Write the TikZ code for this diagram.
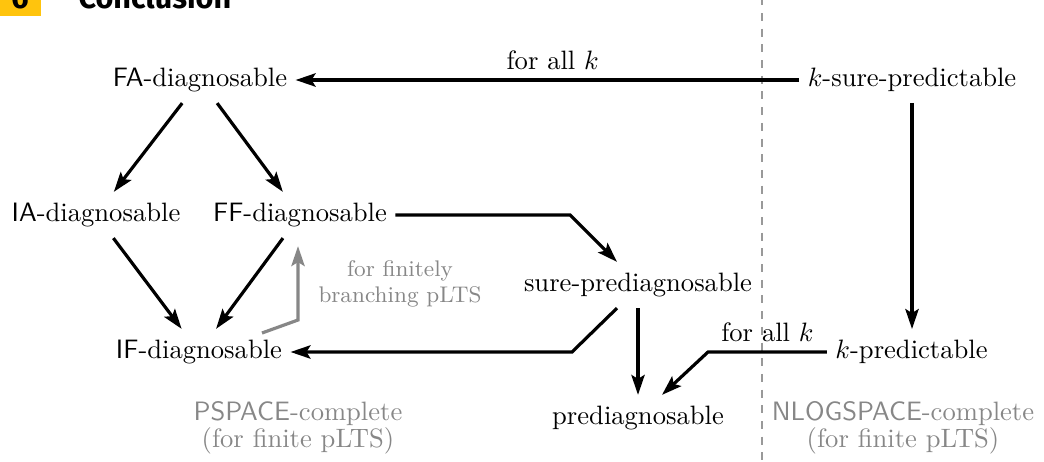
\documentclass[tikz,border=0pt]{standalone}
\usepackage{fontspec}
\newfontfamily\hdrfont{Fira Sans}
\usetikzlibrary{arrows.meta,calc}
\definecolor{hdryellow}{RGB}{255,196,13}
\definecolor{notegray}{RGB}{135,135,135}
\begin{document}
\begin{tikzpicture}[x=0.376pt,y=-0.376pt,
  st/.style={inner xsep=3pt, inner ysep=4pt, font=\fontsize{10}{12}\selectfont},
  arr/.style={line width=1.2pt, -{Stealth[length=7.5pt,width=5pt,inset=1.5pt]}},
  garr/.style={arr, draw=notegray},
  lab/.style={inner sep=3.33pt, font=\fontsize{10}{12}\selectfont},
  note/.style={text=notegray, align=center, font=\fontsize{10}{10.2}\selectfont},
  smallnote/.style={text=notegray, align=center, font=\fontsize{8.5}{9.8}\selectfont},
  sep/.style={draw=gray!80, line width=0.4pt, dash pattern=on 3pt off 2.9pt, dash phase=1pt}]
\useasboundingbox (0,0) rectangle (1044,461);
% header (cut off)
\fill[hdryellow] (0,-30) rectangle (41,16);
\node[anchor=base, inner sep=0, font=\hdrfont\bfseries\fontsize{11.5}{13}\selectfont] (hnum) at (20,9) {6};
\node[anchor=base west, inner sep=0, font=\hdrfont\bfseries\fontsize{11.5}{13}\selectfont] (htitle) at (78,9) {Conclusion};
% separator
\coordinate (s1) at (762,0);
\coordinate (s2) at (762,461);
\draw[sep] (s1) -- (s2);
% nodes
\node[st] (FA) at (200,80) {\textsf{FA}-diagnosable};
\node[st] (KS) at (912,80) {$k$-sure-predictable};
\node[st] (IA) at (96,215) {\textsf{IA}-diagnosable};
\node[st] (FF) at (300,215) {\textsf{FF}-diagnosable};
\node[st] (SP) at (638,285) {sure-prediagnosable};
\node[st] (IF) at (199,352) {\textsf{IF}-diagnosable};
\node[st] (KP) at (911.5,352) {$k$-predictable};
\node[st] (PD) at (638,418) {prediagnosable};
\node[note] (ps) at (298,428) {\textsf{PSPACE}-complete\\(for finite pLTS)};
\node[note] (nl) at (903,428) {\textsf{NLOGSPACE}-complete\\(for finite pLTS)};
\node[smallnote] (fb) at (400,284) {for finitely\\branching pLTS};
% connectors
\draw[arr] (KS) -- node[lab, above, xshift=2pt] {for all $k$} (FA);
\draw[arr] (FA) -- (IA);
\draw[arr] (FA) -- (FF);
\draw[arr] (IA) -- (IF);
\draw[arr] (FF) -- (IF);
\coordinate (b1) at (570,215);
\draw[arr] (FF.east) -- (b1) -- ($(SP.north)+(-21,0)$);
\coordinate (b2) at (572,352);
\draw[arr] ($(SP.south)+(-21,0)$) -- (b2) -- (IF.east);
\draw[arr] (SP) -- (PD);
\draw[arr] (KS.south) -- (KS.south |- KP.north);
\coordinate (b3) at (708,352);
\draw[arr] (KP.west) -- node[lab, above] {for all $k$} (b3) -- ($(PD.north)+(24,0)$);
\coordinate (g1) at (262,333);
\coordinate (g2) at (298,320);
\draw[garr] (g1) -- (g2) -- ($(FF.south)+(-2,8)$);
\end{tikzpicture}
\end{document}
